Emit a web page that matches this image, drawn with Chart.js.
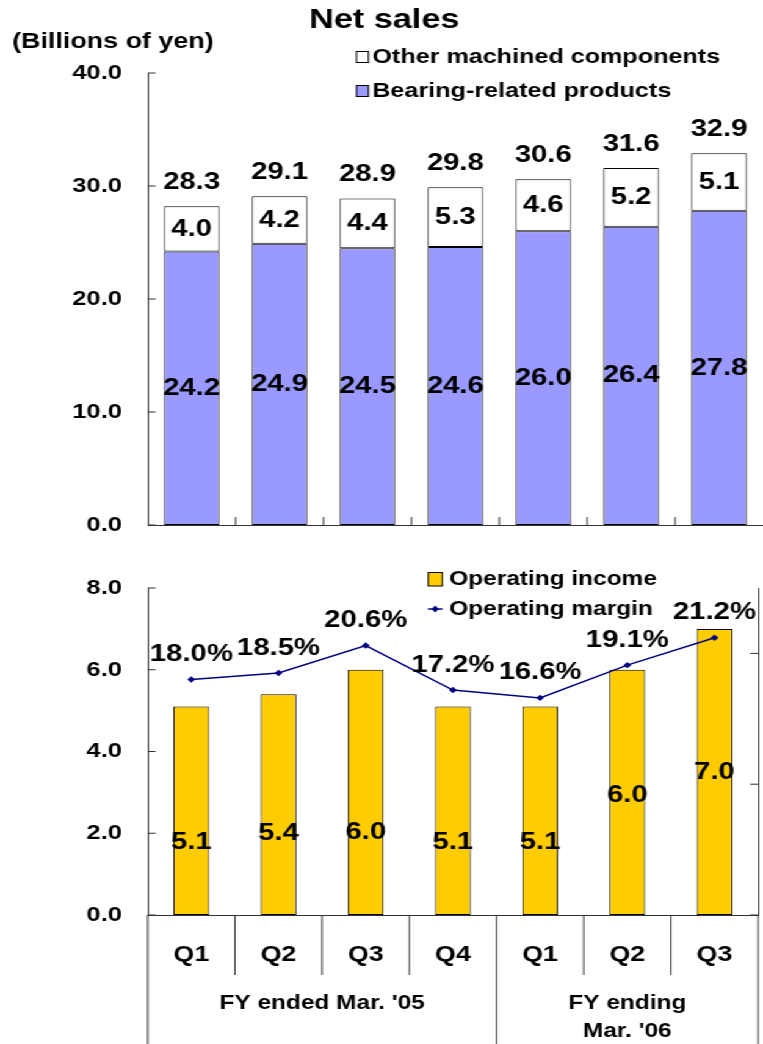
<!DOCTYPE html>
<html><head><meta charset="utf-8">
<script src="https://cdn.jsdelivr.net/npm/chart.js@4.4.0/dist/chart.umd.min.js"></script>
<style>
html,body{margin:0;padding:0;background:#fff;overflow:hidden;}
#wrap{position:absolute;left:0;top:0;width:625px;height:1044px;transform:scaleX(1.2208);transform-origin:0 0;}
#topBox{position:absolute;left:0;top:0;width:625px;height:545px;}
#botBox{position:absolute;left:0;top:545px;width:625px;height:499px;}
</style></head>
<body>
<div id="wrap"><div id="topBox"><canvas id="c1"></canvas></div><div id="botBox"><canvas id="c2"></canvas></div></div>
<script>
// ---- data ----
const quarters = ['Q1','Q2','Q3','Q4','Q1','Q2','Q3'];
const fiscalYears = [["FY ended Mar. '05"], ["FY ending","Mar. '06"]];
const fiscalYearQuarterCounts = [4, 3];
const bearingRelated = [24.2, 24.9, 24.5, 24.6, 26.0, 26.4, 27.8];
const otherMachined = [4.0, 4.2, 4.4, 5.3, 4.6, 5.2, 5.1];
const netSalesTotal = [28.3, 29.1, 28.9, 29.8, 30.6, 31.6, 32.9];
const operatingIncome = [5.1, 5.4, 6.0, 5.1, 5.1, 6.0, 7.0];
const operatingMargin = [18.0, 18.5, 20.6, 17.2, 16.6, 19.1, 21.2];
const salesTicks = [0, 10, 20, 30, 40];
const incomeTicks = [0, 2, 4, 6, 8];
const marginTicks = [0, 10, 20];

// ---- style ----
const FONT = '"Liberation Sans", Arial, Helvetica, sans-serif';
const AX = '#333333';
const BLUE = '#9999FF';
const YELLOW = '#FFCC00';
const NAVY = '#000080';
function bold(size){ return 'bold ' + size + 'px ' + FONT; }
function txt(ctx, s, x, y, size, align){
  ctx.save(); ctx.font = bold(size); ctx.fillStyle = '#000';
  ctx.textAlign = align || 'center'; ctx.textBaseline = 'middle';
  ctx.fillText(s, x, y); ctx.restore();
}
function line(ctx, x1, y1, x2, y2){
  ctx.save(); ctx.strokeStyle = AX; ctx.lineWidth = 1;
  ctx.beginPath(); ctx.moveTo(x1, y1); ctx.lineTo(x2, y2); ctx.stroke(); ctx.restore();
}
function noPad(s){ s.paddingTop = 0; s.paddingBottom = 0; }

// ---- top chart ----
const topDecor = {
  id: 'topDecor',
  afterDraw(chart){
    const ctx = chart.ctx, ca = chart.chartArea, ys = chart.scales.y;
    const n = quarters.length, cw = (ca.right - ca.left) / n;
    // inward ticks
    salesTicks.forEach(v => { const y = ys.getPixelForValue(v); line(ctx, ca.left, y, ca.left + 6.5, y); });
    for (let i = 1; i < n; i++) { const x = ca.left + i * cw; line(ctx, x, ca.bottom, x, ca.bottom - 8); }
    // labels
    const mb = chart.getDatasetMeta(0), mo = chart.getDatasetMeta(1);
    for (let i = 0; i < n; i++) {
      const b = mb.data[i], o = mo.data[i];
      txt(ctx, bearingRelated[i].toFixed(1), b.x, (b.y + b.base) / 2, 24);
      txt(ctx, otherMachined[i].toFixed(1), o.x, (o.y + o.base) / 2, 24);
      txt(ctx, netSalesTotal[i].toFixed(1), o.x, o.y - 24, 24);
    }
    // title & unit
    txt(ctx, 'Net sales', 314.8, 20, 28);
    txt(ctx, '(Billions of yen)', 10, 42, 22, 'left');
    // legend
    ctx.save(); ctx.strokeStyle = '#000'; ctx.lineWidth = 1;
    ctx.fillStyle = '#fff'; ctx.fillRect(292, 51.5, 9.8, 11); ctx.strokeRect(292, 51.5, 9.8, 11);
    ctx.fillStyle = BLUE; ctx.fillRect(292, 85.5, 9.8, 11); ctx.strokeRect(292, 85.5, 9.8, 11);
    ctx.restore();
    txt(ctx, 'Other machined components', 305, 57, 20.6, 'left');
    txt(ctx, 'Bearing-related products', 305, 91, 20.6, 'left');
  }
};

new Chart(document.getElementById('c1'), {
  type: 'bar',
  data: { labels: quarters, datasets: [
    { label: 'Bearing-related products', data: bearingRelated, backgroundColor: BLUE, borderColor: '#000', borderWidth: 1, borderSkipped: false, stack: 's', barPercentage: 0.63, categoryPercentage: 1 },
    { label: 'Other machined components', data: otherMachined, backgroundColor: '#FFFFFF', borderColor: '#000', borderWidth: 1, borderSkipped: false, stack: 's', barPercentage: 0.63, categoryPercentage: 1 }
  ]},
  options: {
    responsive: true, maintainAspectRatio: false, animation: false,
    layout: { padding: { top: 73, bottom: 20, left: 0, right: 0 } },
    plugins: { legend: { display: false }, tooltip: { enabled: false }, title: { display: false } },
    scales: {
      x: { stacked: true, grid: { display: false, drawTicks: false }, border: { display: true, color: AX, width: 1 }, ticks: { display: false }, afterFit(s){ s.height = 0; s.paddingLeft = 0; s.paddingRight = 0; } },
      y: { stacked: true, min: 0, max: 40,
           afterBuildTicks(s){ s.ticks = salesTicks.map(v => ({ value: v })); },
           ticks: { padding: 21, color: '#000', font: { family: FONT, size: 21, weight: 'bold' }, callback: v => Number(v).toFixed(1) },
           grid: { display: false, drawTicks: false }, border: { display: true, color: AX, width: 1 },
           afterFit(s){ s.width = 121; noPad(s); } }
    }
  },
  plugins: [topDecor]
});

// ---- bottom chart ----
const botDecor = {
  id: 'botDecor',
  afterDraw(chart){
    const ctx = chart.ctx, ca = chart.chartArea, ys = chart.scales.y, y1 = chart.scales.y1;
    const n = quarters.length, cw = (ca.right - ca.left) / n, H = chart.height;
    // inward ticks
    incomeTicks.forEach(v => { const y = ys.getPixelForValue(v); line(ctx, ca.left, y, ca.left + 6.5, y); });
    marginTicks.forEach(v => { const y = y1.getPixelForValue(v); line(ctx, ca.right, y, ca.right - 6.5, y); });
    // axis extensions and category separators
    line(ctx, ca.left, ca.bottom, ca.left, H);
    line(ctx, ca.right, ca.bottom, ca.right, H);
    const groupEdges = []; let acc = 0;
    fiscalYearQuarterCounts.forEach(c => { acc += c; groupEdges.push(acc); });
    for (let i = 1; i < n; i++) {
      const x = ca.left + i * cw;
      const full = groupEdges.includes(i);
      line(ctx, x, ca.bottom, x, full ? H : ca.bottom + 60);
    }
    // group labels
    let start = 0;
    fiscalYears.forEach((lines, g) => {
      const c = fiscalYearQuarterCounts[g];
      const cx = ca.left + (start + c / 2) * cw;
      lines.forEach((s, k) => txt(ctx, s, cx, 458 + k * 28, 20));
      start += c;
    });
    // data labels
    const incomeLabelAt = [1.78, 2.0, 2.03, 1.78, 1.78, 2.93, 3.5];
    const mb = chart.getDatasetMeta(1), ml = chart.getDatasetMeta(0);
    for (let i = 0; i < n; i++) {
      txt(ctx, operatingIncome[i].toFixed(1), mb.data[i].x, ys.getPixelForValue(incomeLabelAt[i]), 24);
      const p = ml.data[i];
      txt(ctx, operatingMargin[i].toFixed(1) + '%', p.x, p.y - 25, 24);
    }
    // legend
    ctx.save(); ctx.strokeStyle = '#000'; ctx.lineWidth = 1;
    ctx.fillStyle = YELLOW; ctx.fillRect(350.8, 27.5, 11.5, 13.5); ctx.strokeRect(350.8, 27.5, 11.5, 13.5);
    ctx.strokeStyle = NAVY; ctx.lineWidth = 1.5;
    ctx.beginPath(); ctx.moveTo(350.5, 64); ctx.lineTo(362.5, 64); ctx.stroke();
    ctx.fillStyle = NAVY; ctx.beginPath();
    ctx.moveTo(356.5, 60.5); ctx.lineTo(359.5, 64); ctx.lineTo(356.5, 67.5); ctx.lineTo(353.5, 64); ctx.closePath(); ctx.fill();
    ctx.restore();
    txt(ctx, 'Operating income', 368, 34, 20, 'left');
    txt(ctx, 'Operating margin', 368, 64, 20, 'left');
  }
};

new Chart(document.getElementById('c2'), {
  data: { labels: quarters, datasets: [
    { type: 'line', label: 'Operating margin', data: operatingMargin, yAxisID: 'y1', borderColor: NAVY, backgroundColor: NAVY, borderWidth: 1.5, tension: 0, pointStyle: 'rectRot', pointRadius: 3.2, pointBorderWidth: 0, order: 0 },
    { type: 'bar', label: 'Operating income', data: operatingIncome, yAxisID: 'y', backgroundColor: YELLOW, borderColor: '#000', borderWidth: 1, borderSkipped: false, barPercentage: 0.41, categoryPercentage: 1, order: 1 }
  ]},
  options: {
    responsive: true, maintainAspectRatio: false, animation: false,
    layout: { padding: { top: 43, bottom: 0, left: 0, right: 0 } },
    plugins: { legend: { display: false }, tooltip: { enabled: false }, title: { display: false } },
    scales: {
      x: { offset: true, grid: { display: false, drawTicks: false }, border: { display: true, color: AX, width: 1 },
           ticks: { padding: 27, color: '#000', font: { family: FONT, size: 22, weight: 'bold' }, maxRotation: 0, autoSkip: false },
           afterFit(s){ s.height = 129; s.paddingLeft = 0; s.paddingRight = 0; } },
      y: { position: 'left', min: 0, max: 8,
           afterBuildTicks(s){ s.ticks = incomeTicks.map(v => ({ value: v })); },
           ticks: { padding: 21, color: '#000', font: { family: FONT, size: 21, weight: 'bold' }, callback: v => Number(v).toFixed(1) },
           grid: { display: false, drawTicks: false }, border: { display: true, color: AX, width: 1 },
           afterFit(s){ s.width = 121; noPad(s); } },
      y1: { position: 'right', min: 0, max: 25,
            afterBuildTicks(s){ s.ticks = marginTicks.map(v => ({ value: v })); },
            ticks: { display: false }, grid: { display: false, drawTicks: false }, border: { display: true, color: AX, width: 1 },
            afterFit(s){ s.width = 4; noPad(s); } }
    }
  },
  plugins: [botDecor]
});
</script>
</body></html>
